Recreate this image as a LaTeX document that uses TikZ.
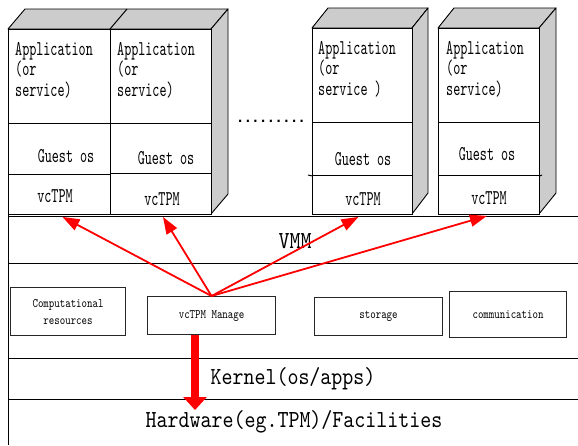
\documentclass[tikz,border=0pt]{standalone}
\usepackage{fontspec}
\newfontfamily\boxfont[FakeStretch=0.64]{lmmono10-regular.otf}
\newfontfamily\bigfont[FakeStretch=0.855]{lmmono10-regular.otf}
\newfontfamily\smallfont[FakeStretch=0.8]{lmmono10-regular.otf}
\newfontfamily\dotfont{DejaVu Sans Mono}
\usetikzlibrary{arrows.meta,calc}
\begin{document}
\begin{tikzpicture}[x=1pt,y=-1pt,
  lay/.style={draw=black,line width=1pt},
  cell/.style={draw=black,line width=0.9pt,fill=white,anchor=north west,inner sep=0pt},
  side/.style={draw=black,line width=0.9pt,fill=black!20,line join=round},
  midbox/.style={draw=black!85,line width=1.1pt,anchor=north west,inner sep=0pt},
  apptxt/.style={font=\boxfont\fontsize{21}{20.5}\selectfont,align=left,anchor=west,inner sep=0pt},
  celltxt/.style={font=\boxfont\fontsize{21}{22}\selectfont,inner sep=0pt},
  smalltxt/.style={font=\smallfont\fontsize{13}{17}\selectfont,align=center,inner sep=0pt},
  bigtxt/.style={font=\bigfont\fontsize{24.5}{26}\selectfont,inner sep=0pt},
  redarrow/.style={draw=red,line width=1.8pt,-{Triangle[length=17pt,width=12pt]}},
  fatarrow/.style={draw=red,line width=8pt,-{Triangle[length=13pt,width=23pt]}}
]
\useasboundingbox (0,0) rectangle (578,445);
\fill[white] (0,0) rectangle (578,445);

% layer lines
\draw[lay] (8,216) -- (578,216);
\draw[lay] (8,263) -- (578,263);
\draw[lay] (8,358) -- (578,358);
\draw[lay] (8,399) -- (578,399);
\draw[lay] (8,214) -- (8,445);

% VM box 1 & 2
\draw[side] (8,29) -- (25,9) -- (228,9) -- (211,29) -- cycle;
\draw[lay] (110,29) -- (127,9);
\draw[side] (211,29) -- (228,9) -- (228,194) -- (211,214) -- cycle;
\node[cell,minimum width=102pt,minimum height=94pt] (app1) at (8,29) {};
\node[cell,minimum width=102pt,minimum height=51pt] (guest1) at (8,123) {};
\node[cell,minimum width=102pt,minimum height=40pt] (vc1) at (8,174) {};
\node[cell,minimum width=101pt,minimum height=94pt] (app2) at (110,29) {};
\node[cell,minimum width=101pt,minimum height=50pt] (guest2) at (110,123) {};
\node[cell,minimum width=101pt,minimum height=41pt] (vc2) at (110,173) {};

% VM box 3
\draw[side] (312,28) -- (328,8) -- (428,8) -- (412,28) -- cycle;
\draw[side] (412,28) -- (428,8) -- (428,193) -- (412,214) -- cycle;
\node[cell,minimum width=100pt,minimum height=94pt] (app3) at (312,28) {};
\node[cell,minimum width=100pt,minimum height=53pt] (guest3) at (312,122) {};
\node[cell,minimum width=100pt,minimum height=39pt] (vc3) at (312,175) {};
\draw[lay] (308,175) -- (guest3.south west);

% VM box 4
\draw[side] (438,28) -- (454,8) -- (556,8) -- (539,28) -- cycle;
\draw[side] (539,28) -- (556,8) -- (556,193) -- (539,214) -- cycle;
\node[cell,minimum width=101pt,minimum height=94pt] (app4) at (438,28) {};
\node[cell,minimum width=101pt,minimum height=53pt] (guest4) at (438,122) {};
\node[cell,minimum width=101pt,minimum height=39pt] (vc4) at (438,175) {};
\draw[lay] (guest4.south east) -- (542,175);

% VM texts
\node[apptxt] (a1) at (15,70) {Application\\(or\\service)};
\node[apptxt] (a2) at (117,70) {Application\\(or\\service)};
\node[apptxt] (a3) at (318,69) {Application\\(or\\service )};
\node[apptxt] (a4) at (446,69) {Application\\(or\\service)};
\node[celltxt] (g1) at (66,156) {Guest os};
\node[celltxt] (g2) at (166,158) {Guest os};
\node[celltxt] (g3) at (363,159) {Guest os};
\node[celltxt] (g4) at (487,154) {Guest os};
\node[celltxt] (v1) at (55,196) {vcTPM};
\node[celltxt] (v2) at (162,199) {vcTPM};
\node[celltxt] (v3) at (363,199) {vcTPM};
\node[celltxt] (v4) at (489,198) {vcTPM};
\node[font=\dotfont\bfseries\fontsize{12.8}{16}\selectfont,inner sep=0pt,anchor=base] (dots) at (271,122) {.........};

% layer labels
\node[bigtxt] (vmm) at (295,241) {VMM};
\node[bigtxt] (kern) at (293,379) {Kernel(os/apps)};
\node[bigtxt] (hw) at (294,422) {Hardware(eg.TPM)/Facilities};

% middle boxes
\node[midbox,minimum width=115pt,minimum height=48pt] (comp) at (10,287) {};
\node[smalltxt] at (comp.center) {Computational\\resources};
\node[midbox,minimum width=128pt,minimum height=38pt] (mgr) at (147,296) {};
\node[smalltxt] at (mgr.center) {vcTPM Manage};
\node[midbox,minimum width=128pt,minimum height=38pt] (stor) at (314,297) {};
\node[smalltxt] at (stor.center) {storage};
\node[midbox,minimum width=117pt,minimum height=46pt] (comm) at (449,291) {};
\node[smalltxt] at (comm.center) {communication};

% arrows
\draw[redarrow] (mgr.north) -- ($(vc1.south)+(3,2)$);
\draw[redarrow] (mgr.north) -- ($(vc2.south)+(2,2)$);
\draw[redarrow] (mgr.north) -- ($(vc3.south)+(-4,2)$);
\draw[redarrow] (mgr.north) -- ($(vc4.south)+(-2,1)$);
\coordinate (hwtip) at (195,410);
\draw[fatarrow] ($(mgr.south west)+(48,0)$) -- (hwtip);
\end{tikzpicture}
\end{document}
